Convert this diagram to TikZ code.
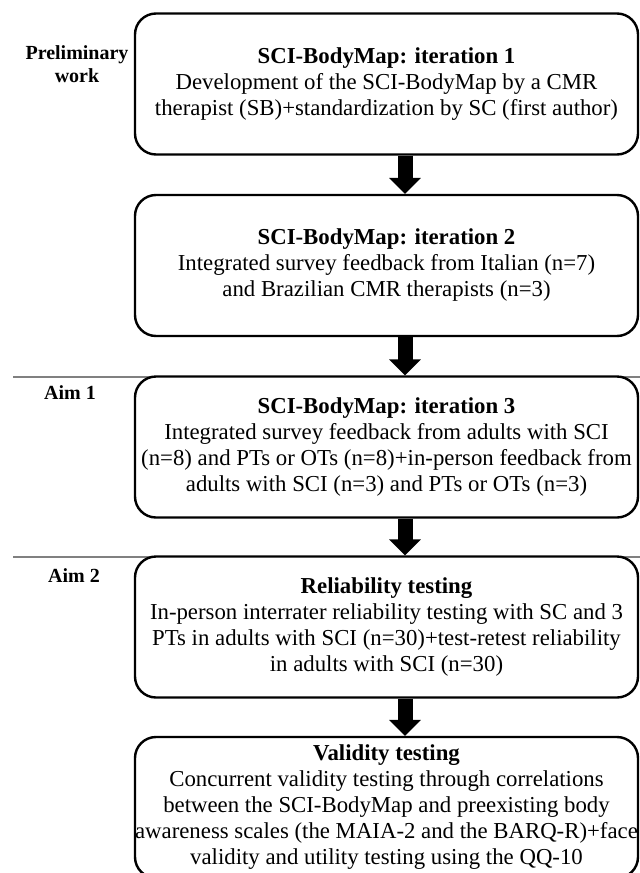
\documentclass[tikz,border=0pt]{standalone}
\usepackage{fontspec}
\setmainfont{Liberation Serif}
\usetikzlibrary{arrows.meta}

\begin{document}
\begin{tikzpicture}[x=0.5pt,y=-0.5pt]

  \tikzset{stage/.style = {draw,line width=1.2pt,rounded corners=10.5pt,fill=white,
      minimum width=251.5pt,minimum height=70.5pt,inner sep=0pt,align=center,
      font=\fontsize{11.4}{13}\selectfont}}
  \tikzset{aim/.style = {align=center,font=\fontsize{10}{11.5}\selectfont\bfseries}}
  \tikzset{flow/.style = {line width=7.5pt,-{Triangle[width=15.5pt,length=8pt]}}}
  \tikzset{divider/.style = {gray,line width=0.7pt}}
  \useasboundingbox (0,0) rectangle (640,873);
  % dividers
  \coordinate (d1l) at (13,377);
  \coordinate (d1r) at (640,377);
  \coordinate (d2l) at (13,557);
  \coordinate (d2r) at (640,557);
  \draw[divider] (d1l) -- (d1r);
  \draw[divider] (d2l) -- (d2r);
  % stages
  \node[stage] (it1) at (386.5,84) {\textbf{SCI-BodyMap: iteration 1}\\
    Development of the SCI-BodyMap by a CMR\\
    therapist (SB)+standardization by SC (first author)};
  \node[stage] (it2) at (386.5,265.5) {\textbf{SCI-BodyMap: iteration 2}\\
    Integrated survey feedback from Italian (n=7)\\
    and Brazilian CMR therapists (n=3)};
  \node[stage] (it3) at (386.5,447) {\textbf{SCI-BodyMap: iteration 3}\\
    Integrated survey feedback from adults with SCI\\
    (n=8) and PTs or OTs (n=8)+in-person feedback from\\
    adults with SCI (n=3) and PTs or OTs (n=3)};
  \node[stage] (rel) at (386.5,627) {\textbf{Reliability testing}\\
    In-person interrater reliability testing with SC and 3\\
    PTs in adults with SCI (n=30)+test-retest reliability\\
    in adults with SCI (n=30)};
  \node[stage] (val) at (386.5,807.5) {\textbf{Validity testing}\\
    Concurrent validity testing through correlations\\
    between the SCI-BodyMap and preexisting body\\
    awareness scales (the MAIA-2 and the BARQ-R)+face\\
    validity and utility testing using the QQ-10};
  % phases
  \node[aim] (pre) at (77,64.5) {Preliminary\\work};
  \node[aim] (a1) at (70,393) {Aim 1};
  \node[aim] (a2) at (74,576) {Aim 2};
  % arrows
  \draw[flow] ([xshift=9.25pt]it1.south) -- ([xshift=9.25pt]it2.north);
  \draw[flow] ([xshift=9.25pt]it2.south) -- ([xshift=9.25pt]it3.north);
  \draw[flow] ([xshift=9.25pt]it3.south) -- ([xshift=9.25pt]rel.north);
  \draw[flow] ([xshift=9.25pt]rel.south) -- ([xshift=9.25pt]val.north);
\end{tikzpicture}
\end{document}
